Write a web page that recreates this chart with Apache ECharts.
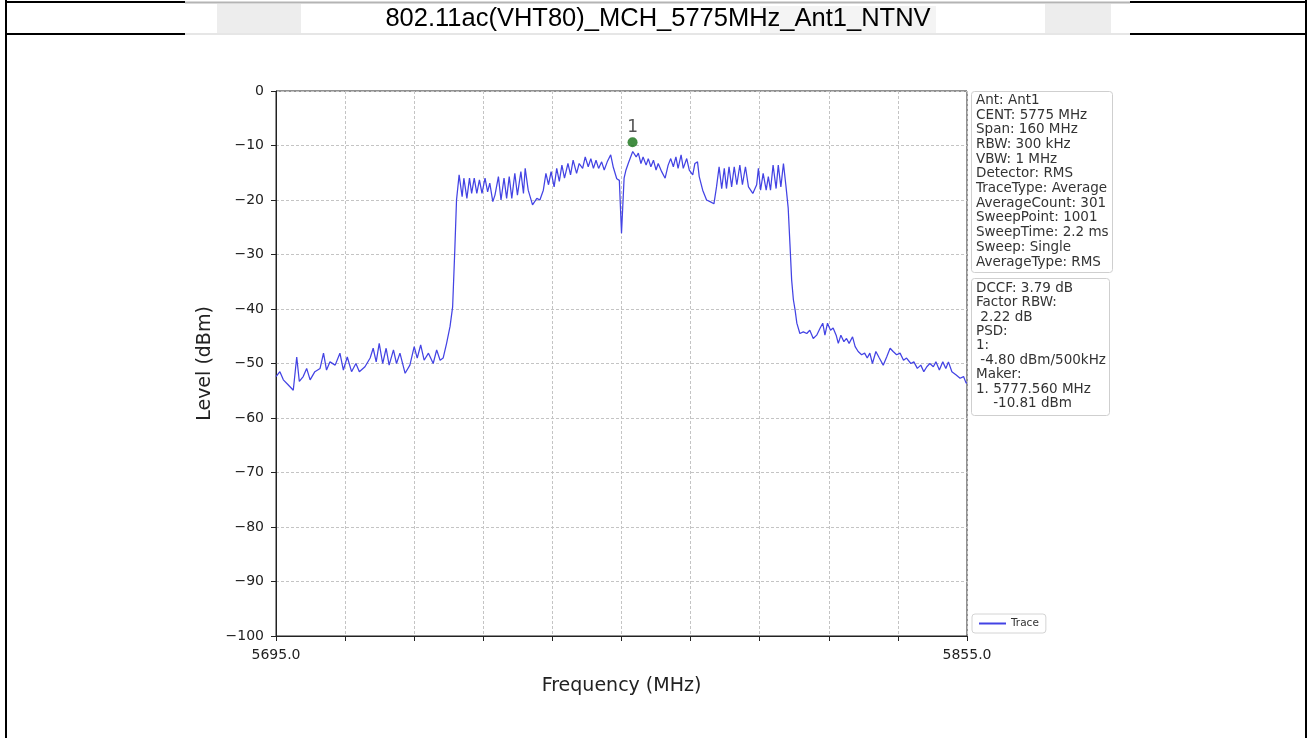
<!DOCTYPE html>
<html>
<head>
<meta charset="utf-8">
<script src="https://cdn.jsdelivr.net/npm/echarts@6/dist/echarts.min.js"></script>
<style>
html,body{margin:0;padding:0;background:#fff;}
#chart{width:1309px;height:738px;}
</style>
</head>
<body>
<div id="chart"></div>
<script>
// ---- data ----
const chartTitle = '802.11ac(VHT80)_MCH_5775MHz_Ant1_NTNV';
const traceName = 'Trace';
const freqMHz = [
5695.0,5695.9,5696.7,5697.8,5699.0,5699.8,5700.4,5701.3,5702.1,5702.9,
5704.0,5705.2,5706.0,5706.7,5707.5,5708.7,5709.8,5710.6,5711.5,5712.5,
5713.5,5714.3,5715.6,5716.8,5717.5,5718.2,5718.9,5719.7,5720.5,5721.2,
5722.2,5722.9,5723.7,5724.9,5726.0,5727.0,5727.7,5728.5,5729.3,5730.3,
5731.4,5732.2,5733.0,5733.7,5734.5,5735.3,5735.9,5736.4,5736.8,5737.4,
5738.1,5738.5,5739.2,5739.8,5740.3,5740.9,5741.5,5742.1,5742.7,5743.4,
5744.0,5744.5,5745.2,5745.7,5746.5,5747.1,5747.8,5748.4,5749.0,5749.6,
5750.3,5750.9,5751.7,5752.3,5752.7,5753.4,5754.4,5755.4,5756.1,5756.9,
5757.5,5758.1,5758.7,5759.4,5760.0,5760.6,5761.2,5761.8,5762.6,5763.2,
5763.8,5764.6,5765.2,5766.0,5766.6,5767.3,5767.9,5768.5,5769.1,5769.7,
5770.4,5771.0,5771.7,5772.5,5773.1,5773.9,5774.5,5775.0,5775.6,5776.0,
5776.6,5777.6,5778.4,5778.9,5779.5,5780.0,5780.7,5781.2,5781.8,5782.4,
5783.0,5783.5,5784.3,5785.1,5785.8,5786.4,5787.0,5787.6,5788.1,5788.8,
5789.3,5790.1,5790.7,5791.5,5792.0,5792.6,5793.0,5793.8,5794.7,5795.5,
5796.4,5797.0,5797.6,5798.2,5798.8,5799.3,5799.9,5800.5,5801.1,5801.7,
5802.4,5803.0,5803.7,5804.4,5805.4,5806.3,5806.7,5807.2,5807.8,5808.5,
5809.0,5809.5,5810.1,5810.8,5811.3,5811.9,5812.5,5813.1,5813.6,5814.0,
5814.4,5814.8,5815.2,5815.6,5816.3,5817.1,5817.9,5818.6,5819.4,5820.2,
5821.0,5821.6,5822.1,5822.7,5823.4,5824.0,5824.7,5825.2,5825.8,5826.5,
5827.1,5827.7,5828.5,5829.1,5829.8,5830.6,5831.3,5831.9,5832.5,5833.1,
5833.9,5834.7,5835.6,5836.4,5837.2,5837.9,5838.7,5839.5,5840.3,5841.0,
5842.0,5842.7,5843.5,5844.3,5845.0,5845.7,5846.4,5847.2,5847.8,5848.6,
5849.4,5850.1,5850.7,5851.5,5852.5,5853.4,5854.2,5854.8,5855.0
];
const levelDBm = [
-52.4,-51.5,-53.0,-53.9,-54.9,-48.8,-53.3,-52.4,-50.9,-53.0,
-51.5,-50.9,-48.1,-51.2,-49.7,-50.3,-48.1,-51.2,-48.8,-51.5,
-50.0,-51.5,-50.6,-49.0,-47.2,-49.7,-46.3,-50.0,-47.2,-50.3,
-47.5,-50.0,-48.1,-51.8,-50.3,-46.9,-49.0,-46.6,-49.4,-48.1,
-50.0,-47.5,-49.4,-49.0,-46.3,-43.2,-39.6,-29.2,-20.0,-15.4,
-19.4,-16.0,-19.7,-16.0,-18.8,-16.0,-18.8,-16.3,-18.8,-16.0,
-18.5,-16.9,-20.3,-19.1,-15.7,-20.0,-16.0,-19.7,-15.7,-19.7,
-15.1,-19.1,-14.8,-18.8,-14.2,-18.2,-20.9,-19.7,-20.0,-18.2,
-15.1,-17.2,-14.8,-17.6,-14.2,-16.6,-13.6,-16.0,-13.3,-15.4,
-12.7,-15.1,-13.3,-14.2,-12.1,-13.9,-12.4,-14.2,-12.7,-14.2,
-13.0,-14.5,-13.0,-11.7,-14.0,-16.1,-16.4,-26.1,-16.0,-14.6,
-13.2,-11.1,-12.1,-11.4,-13.3,-12.1,-13.6,-12.4,-13.9,-12.7,
-14.5,-13.3,-14.8,-16.0,-13.6,-12.4,-13.9,-12.1,-14.2,-11.7,
-14.2,-12.4,-14.5,-15.4,-13.3,-13.0,-15.7,-18.2,-20.0,-20.3,
-20.7,-17.6,-13.9,-17.9,-14.2,-17.9,-13.9,-17.6,-13.9,-17.2,
-13.6,-17.2,-13.9,-17.6,-18.8,-17.2,-14.2,-18.2,-15.1,-18.2,
-15.7,-18.2,-13.6,-17.9,-13.6,-17.6,-13.3,-17.6,-21.5,-28.0,
-34.7,-38.3,-40.2,-42.6,-44.5,-44.2,-44.5,-43.9,-45.4,-44.8,
-43.5,-42.6,-44.8,-42.6,-43.9,-43.5,-44.8,-46.3,-44.8,-46.0,
-45.4,-46.3,-45.1,-46.9,-47.8,-48.4,-48.1,-49.0,-48.1,-50.0,
-47.8,-49.0,-50.3,-48.8,-47.2,-47.8,-48.4,-48.1,-49.4,-49.0,
-50.0,-49.7,-50.9,-50.3,-51.5,-50.6,-50.0,-50.6,-49.7,-51.2,
-49.7,-50.9,-49.7,-51.5,-52.1,-52.7,-52.4,-53.6,-53.5
];
const markerFreq = [5777.56];
const markerLevel = [-9.4];
const markerLabels = ['1'];
const freqStart = 5695, freqStop = 5855, freqGridStep = 16;
const xTickLabels = ['5695.0', '5855.0'];
const levelMin = -100, levelMax = 0, levelStep = 10;
const xAxisName = 'Frequency (MHz)';
const yAxisName = 'Level (dBm)';
const infoLines1 = ['Ant: Ant1','CENT: 5775 MHz','Span: 160 MHz','RBW: 300 kHz','VBW: 1 MHz','Detector: RMS','TraceType: Average','AverageCount: 301','SweepPoint: 1001','SweepTime: 2.2 ms','Sweep: Single','AverageType: RMS'];
const infoLines2 = ['DCCF: 3.79 dB','Factor RBW:',' 2.22 dB','PSD:','1:',' -4.80 dBm/500kHz','Maker:','1. 5777.560 MHz','    -10.81 dBm'];

// ---- chart ----
const chart = echarts.init(document.getElementById('chart'), null, {renderer: 'canvas'});
const traceData = freqMHz.map((f, i) => [f, levelDBm[i]]);
const markerData = markerFreq.map((f, i) => [f, markerLevel[i]]);
const FONT = 'DejaVu Sans';
const minus = v => String(v).replace('-', '\u2212');
const traceColor = '#4343e4';

const option = {
  backgroundColor: '#ffffff',
  animation: false,
  grid: {left: 276, top: 91, width: 691, height: 545, show: true, borderColor: '#222', borderWidth: 1, backgroundColor: 'transparent'},
  xAxis: [
    {type: 'value', min: freqStart, max: freqStop, show: false},
    {type: 'value', min: 0, max: freqStop - freqStart, interval: freqGridStep, position: 'bottom',
     axisLine: {show: true, onZero: false, lineStyle: {color: '#222', width: 1}},
     axisTick: {show: true, length: 5, lineStyle: {color: '#222'}},
     axisLabel: {show: true, margin: 12, fontFamily: FONT, fontSize: 14, color: '#222',
       showMinLabel: true, showMaxLabel: true,
       formatter: v => v === 0 ? xTickLabels[0] : (v === freqStop - freqStart ? xTickLabels[1] : '')},
     splitLine: {show: true, lineStyle: {color: '#c4c4c4', width: 1, type: [3, 2]}},
     name: xAxisName, nameLocation: 'middle', nameGap: 41,
     nameTextStyle: {fontFamily: FONT, fontSize: 19, color: '#222'}}
  ],
  yAxis: {type: 'value', min: levelMin, max: levelMax, interval: levelStep,
    axisLine: {show: true, onZero: false, lineStyle: {color: '#222', width: 1}},
    axisTick: {show: true, length: 5, lineStyle: {color: '#222'}},
    axisLabel: {margin: 12, fontFamily: FONT, fontSize: 14, color: '#222', formatter: minus},
    splitLine: {show: true, lineStyle: {color: '#c4c4c4', width: 1, type: [3, 2]}},
    name: yAxisName, nameLocation: 'middle', nameGap: 54, nameRotate: 90,
    nameTextStyle: {fontFamily: FONT, fontSize: 19, color: '#222'}},
  legend: {data: [{name: traceName, icon: 'rect'}], left: 972, top: 614, orient: 'vertical',
    backgroundColor: '#fff', borderColor: '#d4d4d4', borderWidth: 1, borderRadius: 3,
    padding: [4, 7, 4, 7], itemWidth: 27, itemHeight: 2, itemGap: 6,
    textStyle: {fontFamily: FONT, fontSize: 10.5, color: '#333'}},
  series: [
    {name: traceName, type: 'line', xAxisIndex: 0, data: traceData, symbol: 'none',
     lineStyle: {color: traceColor, width: 1.25}, itemStyle: {color: traceColor}, z: 3},
    {name: 'Marker', type: 'scatter', xAxisIndex: 0, data: markerData, symbolSize: 10,
     itemStyle: {color: '#137013'}, z: 4,
     label: {show: true, position: 'top', distance: 1, formatter: p => markerLabels[p.dataIndex],
       fontFamily: FONT, fontSize: 17, color: '#2a2a2a'}}
  ],
  graphic: [
    // table borders and faint watermark blocks
    {type: 'line', shape: {x1: 6, y1: 0, x2: 6, y2: 738}, style: {stroke: '#000', lineWidth: 2}},
    {type: 'line', shape: {x1: 1306, y1: 0, x2: 1306, y2: 738}, style: {stroke: '#000', lineWidth: 2}},
    {type: 'rect', shape: {x: 217, y: 4, width: 84, height: 29}, style: {fill: '#ededed'}},
    {type: 'rect', shape: {x: 1045, y: 4, width: 66, height: 29}, style: {fill: '#ededed'}},
    {type: 'rect', shape: {x: 760, y: 6, width: 176, height: 27}, style: {fill: '#f4f4f4'}},
    {type: 'line', shape: {x1: 6, y1: 2, x2: 185, y2: 2}, style: {stroke: '#000', lineWidth: 2}},
    {type: 'line', shape: {x1: 185, y1: 2.5, x2: 1130, y2: 2.5}, style: {stroke: '#b4b4b4', lineWidth: 2}},
    {type: 'line', shape: {x1: 1130, y1: 2, x2: 1306, y2: 2}, style: {stroke: '#000', lineWidth: 2}},
    {type: 'line', shape: {x1: 6, y1: 34, x2: 185, y2: 34}, style: {stroke: '#000', lineWidth: 2}},
    {type: 'line', shape: {x1: 185, y1: 34, x2: 1130, y2: 34}, style: {stroke: '#e6e6e6', lineWidth: 2}},
    {type: 'line', shape: {x1: 1130, y1: 34, x2: 1306, y2: 34}, style: {stroke: '#000', lineWidth: 2}},
    {type: 'text', x: 658, y: 19, style: {text: chartTitle, font: '25.5px "Liberation Sans"', fill: '#000', textAlign: 'center', textVerticalAlign: 'middle'}},
    // info boxes
    {type: 'rect', shape: {x: 971.5, y: 91.5, width: 141, height: 181, r: 3}, style: {fill: '#fff', stroke: '#cfcfcf', lineWidth: 1}, z: 10},
    {type: 'text', x: 976, y: 93, z: 11, style: {text: infoLines1.join('\n'), font: '13.5px "DejaVu Sans"', lineHeight: 14.7, fill: '#333', textVerticalAlign: 'top'}},
    {type: 'rect', shape: {x: 971.5, y: 278.5, width: 138, height: 137, r: 3}, style: {fill: '#fff', stroke: '#cfcfcf', lineWidth: 1}, z: 10},
    {type: 'text', x: 976, y: 281, z: 11, style: {text: infoLines2.join('\n'), font: '13.5px "DejaVu Sans"', lineHeight: 14.4, fill: '#333', textVerticalAlign: 'top'}}
  ]
};
chart.setOption(option);
</script>
</body>
</html>
